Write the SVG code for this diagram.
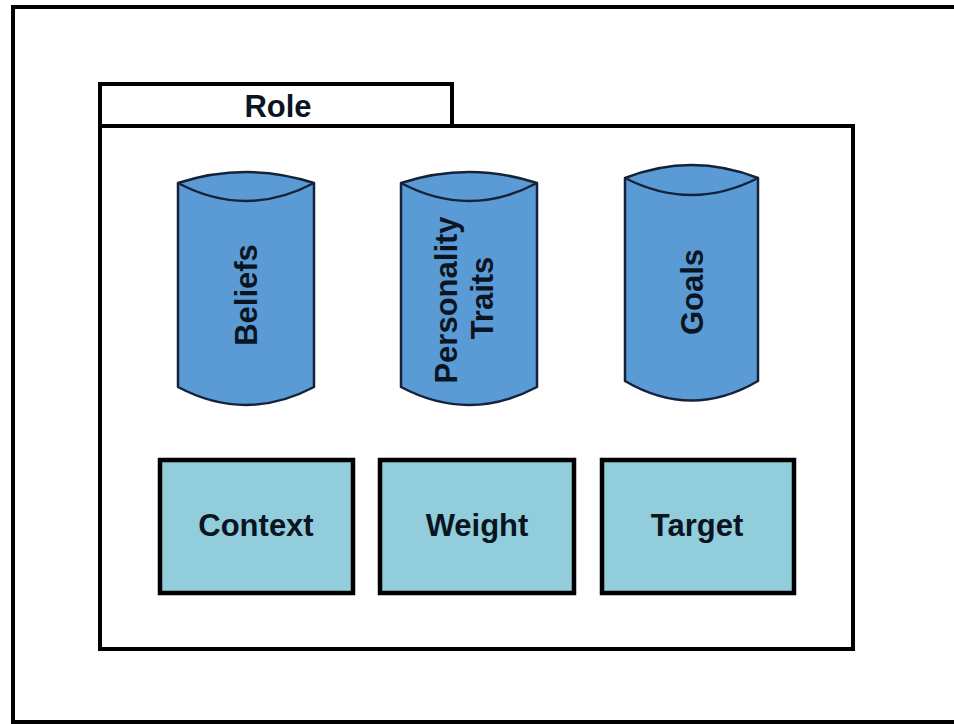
<svg xmlns="http://www.w3.org/2000/svg" width="954" height="724" viewBox="0 0 954 724">
  <style>
    .frame { fill: #ffffff; stroke: #000000; stroke-width: 4; }
    .cyl { fill: #5b9bd5; stroke: #15233a; stroke-width: 2.5; stroke-linejoin: round; }
    .cap { fill: none; stroke: #15233a; stroke-width: 2.5; }
    .box { fill: #92cddc; stroke: #000000; stroke-width: 4.5; }
    .lbl { font-family: "Liberation Sans", Arial, sans-serif; font-weight: bold; font-size: 31px; fill: #0b1522; text-anchor: middle; }
  </style>
  <rect width="954" height="724" fill="#ffffff"/>
  <g id="outer">
    <rect class="frame" x="13" y="7" width="980" height="715"/>
  </g>
  <g id="role">
    <rect class="frame" x="100" y="84" width="352" height="42"/>
    <rect class="frame" x="100" y="126" width="753" height="523"/>
    <text class="lbl" x="278" y="117">Role</text>
  </g>
  <g id="beliefs">
    <path class="cyl" d="M178,183 Q246,161 314,183 L314,387 Q246,423 178,387 Z"/>
    <path class="cap" d="M178,183 Q246,219 314,183"/>
    <text class="lbl" x="257" y="295" transform="rotate(-90 257 295)">Beliefs</text>
  </g>
  <g id="personality-traits">
    <path class="cyl" d="M401,183 Q469,161 537,183 L537,387 Q469,423 401,387 Z"/>
    <path class="cap" d="M401,183 Q469,219 537,183"/>
    <text class="lbl" x="457" y="300" transform="rotate(-90 457 300)">Personality</text>
    <text class="lbl" x="493" y="298" transform="rotate(-90 493 298)">Traits</text>
  </g>
  <g id="goals">
    <path class="cyl" d="M625,178 Q691.5,152 758,178 L758,381 Q691.5,420 625,381 Z"/>
    <path class="cap" d="M625,178 Q691.5,212 758,178"/>
    <text class="lbl" x="703" y="292" transform="rotate(-90 703 292)">Goals</text>
  </g>
  <g id="context">
    <rect class="box" x="160" y="460" width="193" height="133"/>
    <text class="lbl" x="256" y="536">Context</text>
  </g>
  <g id="weight">
    <rect class="box" x="380" y="460" width="194" height="133"/>
    <text class="lbl" x="477" y="536">Weight</text>
  </g>
  <g id="target">
    <rect class="box" x="602" y="460" width="192" height="133"/>
    <text class="lbl" x="697" y="536">Target</text>
  </g>
  <g id="connectors"></g>
</svg>
